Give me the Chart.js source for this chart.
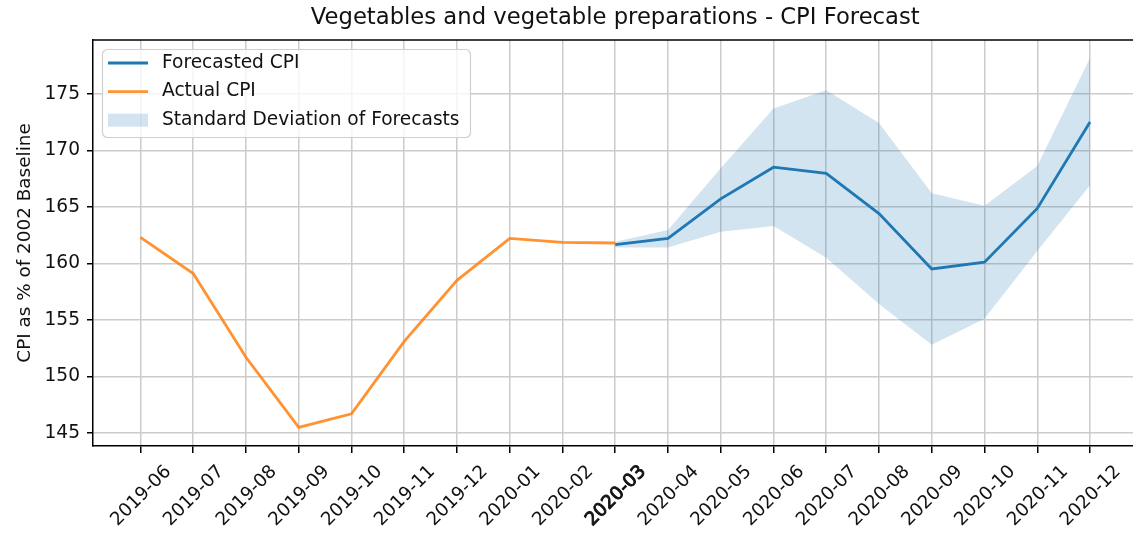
<!DOCTYPE html>
<html>
<head>
  <meta charset="utf-8">
  <title>Vegetables and vegetable preparations - CPI Forecast</title>
  <script src="https://cdn.jsdelivr.net/npm/chart.js@4.4.1/dist/chart.umd.min.js"></script>
  <style>
    body { margin: 0; background: #fff; }
  </style>
</head>
<body>
<canvas id="cpiChart" width="1133" height="535"></canvas>
<script>
// month labels along the x axis
const months = ['2019-06', '2019-07', '2019-08', '2019-09', '2019-10', '2019-11', '2019-12',
  '2020-01', '2020-02', '2020-03', '2020-04', '2020-05', '2020-06', '2020-07', '2020-08',
  '2020-09', '2020-10', '2020-11', '2020-12'];

// actual CPI, 2019-06 .. 2020-03
const actualCPI = [162.3, 159.1, 151.7, 145.5, 146.7, 153.1, 158.5, 162.2, 161.85, 161.8];
// forecast, 2020-03 .. 2020-12
const forecastCPI = [161.65, 162.2, 165.7, 168.5, 167.95, 164.4, 159.5, 160.1, 164.85, 172.5];
const forecastUpper = [161.9, 162.95, 168.4, 173.7, 175.3, 172.4, 166.2, 165.1, 168.6, 178.15];
const forecastLower = [161.4, 161.4, 162.8, 163.3, 160.5, 156.4, 152.8, 155.1, 161.1, 166.9];

const actualStart = 0;
const forecastStart = 9;

const FONT = "'DejaVu Sans', sans-serif";
const TEXT = '#111';

function toPoints(values, start) {
  return values.map((v, i) => ({ x: start + i, y: v }));
}

// title centred over the axes box
const axesTitle = {
  id: 'axesTitle',
  afterDraw(chart) {
    const c = chart.ctx;
    const x = chart.scales.x;
    const mid = x.getPixelForValue((x.min + 18.9) / 2);
    c.save();
    c.font = '22.7px ' + FONT;
    c.fillStyle = TEXT;
    c.textAlign = 'center';
    c.textBaseline = 'middle';
    c.fillText('Vegetables and vegetable preparations - CPI Forecast', mid, 18.5);
    c.restore();
  }
};

// top spine (right spine falls outside the picture)
const topSpine = {
  id: 'topSpine',
  afterDraw(chart) {
    const a = chart.chartArea;
    const c = chart.ctx;
    c.save();
    c.strokeStyle = '#000';
    c.lineWidth = 1.5;
    c.beginPath();
    c.moveTo(a.left, a.top);
    c.lineTo(a.right, a.top);
    c.stroke();
    c.restore();
  }
};

// matplotlib style legend in the upper left corner
const boxLegend = {
  id: 'boxLegend',
  afterDraw(chart) {
    const c = chart.ctx;
    const items = chart.data.datasets.filter(d => d.inLegend);
    const left = 102.5, top = 49.5, w = 368, h = 88, r = 5;
    c.save();
    c.beginPath();
    c.moveTo(left + r, top);
    c.arcTo(left + w, top, left + w, top + h, r);
    c.arcTo(left + w, top + h, left, top + h, r);
    c.arcTo(left, top + h, left, top, r);
    c.arcTo(left, top, left + w, top, r);
    c.closePath();
    c.fillStyle = 'rgba(255,255,255,0.8)';
    c.fill();
    c.strokeStyle = '#d0d0d0';
    c.lineWidth = 1.2;
    c.stroke();

    c.font = '18.6px ' + FONT;
    c.textBaseline = 'middle';
    items.forEach((d, i) => {
      const y = 63 + i * 28.6;
      if (d.fill) {
        c.fillStyle = d.backgroundColor;
        c.fillRect(108, y - 6.5, 40, 13);
      } else {
        c.strokeStyle = d.borderColor;
        c.lineWidth = d.borderWidth;
        c.beginPath();
        c.moveTo(108, y);
        c.lineTo(148, y);
        c.stroke();
      }
      c.fillStyle = TEXT;
      c.fillText(d.label, 162, y);
    });
    c.restore();
  }
};

const ctx = document.getElementById('cpiChart').getContext('2d');
const cpiChart = new Chart(ctx, {
  type: 'line',
  data: {
    datasets: [
      {
        label: 'Forecasted CPI',
        inLegend: true,
        data: toPoints(forecastCPI, forecastStart),
        borderColor: '#1f77b4',
        borderWidth: 2.8,
        pointRadius: 0,
        fill: false
      },
      {
        label: 'Actual CPI',
        inLegend: true,
        data: toPoints(actualCPI, actualStart),
        borderColor: 'rgba(255,127,14,0.85)',
        borderWidth: 2.8,
        pointRadius: 0,
        fill: false
      },
      {
        label: 'lower',
        data: toPoints(forecastLower, forecastStart),
        borderWidth: 0,
        borderColor: 'rgba(0,0,0,0)',
        pointRadius: 0,
        fill: false
      },
      {
        label: 'Standard Deviation of Forecasts',
        inLegend: true,
        data: toPoints(forecastUpper, forecastStart),
        borderWidth: 0,
        borderColor: 'rgba(0,0,0,0)',
        backgroundColor: 'rgba(31,119,180,0.2)',
        pointRadius: 0,
        fill: '-1'
      }
    ]
  },
  options: {
    responsive: false,
    animation: false,
    devicePixelRatio: 1,
    layout: { padding: { top: 40, left: 0, right: 0, bottom: 0 } },
    plugins: {
      legend: { display: false },
      title: { display: false },
      tooltip: { enabled: false }
    },
    elements: { line: { tension: 0 } },
    scales: {
      x: {
        type: 'linear',
        min: -0.9,
        max: 18.815,
        afterFit(s) {
          s.height = 89;
          s.paddingLeft = 0;
          s.paddingRight = 0;
        },
        grid: { color: '#cccccc', lineWidth: 1.5, tickLength: 7, tickColor: '#000', tickWidth: 1.5 },
        border: { color: '#000', width: 1.5 },
        ticks: {
          stepSize: 1,
          includeBounds: false,
          autoSkip: false,
          maxTicksLimit: 100,
          minRotation: 45,
          maxRotation: 45,
          labelOffset: 28,
          padding: 8,
          color: TEXT,
          font: { family: FONT, size: 18.4 },
          textStrokeColor: TEXT,
          textStrokeWidth: c => (c.tick && c.tick.value === forecastStart ? 0.9 : 0),
          callback: v => months[v] ?? ''
        }
      },
      y: {
        min: 143.85,
        max: 179.75,
        afterFit(s) {
          s.width = 93;
          s.paddingTop = 0;
          s.paddingBottom = 0;
        },
        grid: { color: '#cccccc', lineWidth: 1.5, tickLength: 6, tickColor: '#000', tickWidth: 1.5 },
        border: { color: '#000', width: 1.5 },
        title: {
          display: true,
          text: 'CPI as % of 2002 Baseline',
          color: TEXT,
          font: { family: FONT, size: 18.4 },
          padding: { top: 14, bottom: 0 }
        },
        ticks: {
          stepSize: 5,
          includeBounds: false,
          maxTicksLimit: 100,
          padding: 7,
          color: TEXT,
          font: { family: FONT, size: 18.6 }
        }
      }
    }
  },
  plugins: [axesTitle, topSpine, boxLegend]
});
</script>
</body>
</html>
